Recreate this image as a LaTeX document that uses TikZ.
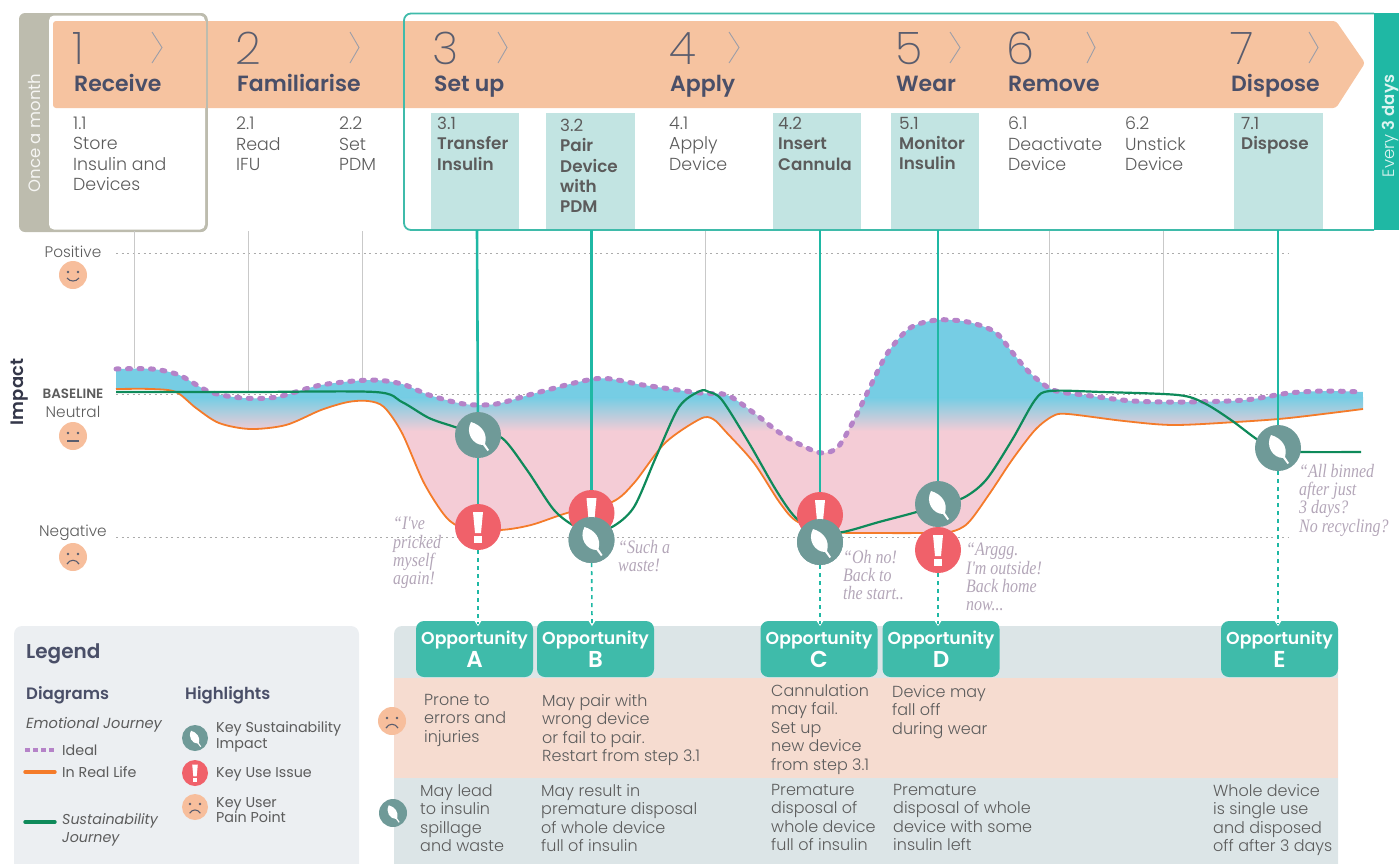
\documentclass[tikz,border=0pt]{standalone}
\usepackage{fontspec}
\setmainfont{Poppins}
\newfontfamily\plight{Poppins Light}
\newfontfamily\pxlight{Poppins ExtraLight}
\newfontfamily\psemi{Poppins SemiBold}
\newfontfamily\phand[FakeStretch=0.84]{Liberation Serif}
\definecolor{grpanel}{HTML}{BDBCAE}
\definecolor{arrowc}{HTML}{F6C3A0}
\definecolor{teal1}{HTML}{1FB8A4}
\definecolor{tealbox}{HTML}{C2E4E2}
\definecolor{opp}{HTML}{3FBBAA}
\definecolor{titlec}{HTML}{4A4F68}
\definecolor{bodyc}{HTML}{5C5C5C}
\definecolor{numc}{HTML}{5A5D6E}
\definecolor{leafc}{HTML}{6F9A98}
\definecolor{redc}{HTML}{F0616A}
\definecolor{facec}{HTML}{F7BE9C}
\definecolor{ideal}{HTML}{B583C8}
\definecolor{orange1}{HTML}{F47B2A}
\definecolor{green1}{HTML}{0E8A5A}
\definecolor{blue1}{HTML}{76CDE4}
\definecolor{pink1}{HTML}{F4CCD6}
\definecolor{bandg}{HTML}{DCE5E7}
\definecolor{bandp}{HTML}{F6DCD0}
\definecolor{legendc}{HTML}{ECEFF2}
\definecolor{handc}{HTML}{B3A6B8}
\definecolor{gridc}{HTML}{C9C9C9}
\pgfdeclarelayer{top}
\pgfsetlayers{main,top}
\tikzset{
 every node/.style={inner sep=0pt},
 num/.style={anchor=base west,text=numc,font=\pxlight\fontsize{45}{46}\selectfont},
 steptitle/.style={anchor=base west,text=titlec,font=\psemi\fontsize{22}{24}\selectfont},
 sub/.style={anchor=north west,align=left,text=bodyc,font=\plight\fontsize{17.4}{20.3}\selectfont},
 subb/.style={sub,font=\fontsize{16.8}{20.3}\selectfont},
 row/.style={anchor=north west,align=left,text=bodyc,font=\plight\fontsize{16}{18.5}\selectfont},
 hand/.style={anchor=north west,align=left,text=handc,font=\phand\itshape\fontsize{19}{18.3}\selectfont},
 axisl/.style={text=bodyc,font=\plight\fontsize{15.3}{16}\selectfont},
 leg/.style={anchor=west,align=left,text=bodyc,font=\fontsize{14.3}{15.5}\selectfont},
 legh/.style={anchor=base west,text=titlec,font=\psemi\fontsize{16.5}{18}\selectfont},
 leafn/.style={circle,fill=leafc,minimum size=46pt},
 redn/.style={circle,fill=redc,minimum size=46pt},
 oppn/.style={rectangle,rounded corners=8pt,fill=opp,minimum width=117pt,minimum height=56pt,align=center,text=white,font=\psemi\fontsize{17.3}{20}\selectfont},
 facen/.style={circle,fill=facec,minimum size=#1},
 facen/.default=28pt,
 tline/.style={teal1,line width=2.6pt},
 tdash/.style={teal1,line width=1.6pt,dash pattern=on 4pt off 4pt},
 gline/.style={gridc,line width=0.8pt},
 hdot/.style={gridc!85!black,line width=1pt,dash pattern=on 2pt off 3.5pt},
 pics/leaficon/.style={code={
   \fill[white] (-7,-13) .. controls (3,-10) and (10,-2) .. (7,9) -- (11,15) -- (9.5,16) -- (5,10) .. controls (-5,10) and (-13,-2) .. (-7,-13) -- cycle;
 }},
 pics/excl/.style={code={
   \fill[white] (-5,-15) -- (5,-15) -- (3,6) -- (-3,6) -- cycle;
   \fill[white] (-4,9) rectangle (4,16);
 }},
 pics/eyes/.style={code={
   \fill[numc] (-5,-3) circle (1.4); \fill[numc] (5,-3) circle (1.4);
 }},
 pics/smileface/.style={code={
   \pic {eyes};
   \draw[numc,line width=1.1pt] (-6,3) .. controls (-3,7) and (3,7) .. (6,3);
 }},
 pics/neutralface/.style={code={
   \pic {eyes};
   \draw[numc,line width=1.1pt] (-6,5) -- (6,5);
 }},
 pics/sadface/.style={code={
   \pic {eyes};
   \draw[numc,line width=1.1pt] (-6,7) .. controls (-3,2) and (3,2) .. (6,7);
 }},
}
\def\idealpts{(116,369) (152,369) (179,375) (210,392) (243,398) (277,397) (321,385) (371,380) (402,384) (429,395) (464,404) (496,404) (536,393) (598,378.5) (643,385) (700,393) (727,395) (754,413) (780,433) (807,448) (823,453) (838,447) (854,420) (870,387) (887.5,353) (910,328) (937,320) (968,322) (995,332) (1012,352) (1030,373) (1053,390) (1084,395) (1133,401) (1187,402) (1245,400) (1289,393) (1325,391) (1363,392)}
\def\orangepts{(116,389) (152,389) (176,392) (196,408) (219,423) (250,429) (286,425) (321,410) (348,402) (368,401) (384,407) (402,433) (424,483) (446,517) (464,528) (500,530) (531,525) (567,513) (612,502) (634,483) (665,443) (700,419) (713,419) (727,433) (754,463) (780,503) (798,522) (834,532) (879,533) (923,533) (950,532) (968,523) (990,493) (1012,460) (1035,430) (1053,416) (1068,414) (1124,421) (1173,425) (1236,422) (1289,418) (1363,409)}
\def\greenpts{(116,392) (250,392) (375,392) (402,402) (429,418) (455,427) (478,435) (502,438) (527,470) (554,510) (576,527) (591,531) (612,527) (634,507) (656,457) (679,407) (700,391) (709,392) (722,400) (749,443) (776,490) (796,518) (820,532) (843,532) (879,522) (916.5,512) (938,504) (963,498) (986,480) (1012,440) (1035,400) (1050,391) (1102,392) (1178,395) (1204,403) (1231,420) (1258,440) (1278,450) (1303,452) (1361,452)}
\begin{document}
\begin{tikzpicture}[x=1pt,y=-1pt]
\useasboundingbox (0,0) rectangle (1399,863);
% header panels
\fill[grpanel,rounded corners=6pt] (19,13) rectangle (207,232);
\fill[white,rounded corners=5pt] (49,15.5) rectangle (205,229.5);
\fill[teal1] (1374,13) rectangle (1399,230);
% teal step boxes
\foreach \a/\b in {431/519,546/635,773/861,891/979,1234/1323}
  \fill[tealbox] (\a,113) rectangle (\b,230);
% arrow band
\fill[arrowc,rounded corners=3pt] (53,21) -- (1336,21) -- (1365,63) -- (1336,108) -- (53,108) -- cycle;
\draw[grpanel,line width=1.6pt,rounded corners=6pt] (49,14) -| (207,231) -- (49,231);
\draw[opp,line width=1.8pt,rounded corners=7pt] (1374,13.5) -- (404,13.5) -- (404,230) -- (1374,230);
% chevrons
\foreach \a/\b in {152/162,350/359,498/507,729/739,950/960,1087/1095,1309/1318}
  \draw[numc!60,line width=0.9pt] (\a,32) -- (\b,47.5) -- (\a,63);
% numbers and titles
\node[num] (n1) at (72,64) {1};
\node[num] (n2) at (235,64) {2};
\node[num] (n3) at (432,64) {3};
\node[num] (n4) at (669,64) {4};
\node[num] (n5) at (895,64) {5};
\node[num] (n6) at (1006,64) {6};
\node[num] (n7) at (1230,64) {7};
\node[steptitle] (t1) at (74,91) {Receive};
\node[steptitle] (t2) at (237,91) {Familiarise};
\node[steptitle] (t3) at (434,91) {Set up};
\node[steptitle] (t4) at (670,91) {Apply};
\node[steptitle] (t5) at (896,91) {Wear};
\node[steptitle] (t6) at (1008,91) {Remove};
\node[steptitle] (t7) at (1231,91) {Dispose};
% substeps
\node[sub] (s11) at (73,117) {1.1\\Store\\Insulin and\\Devices};
\node[sub] (s21) at (236,117) {2.1\\Read\\IFU};
\node[sub] (s22) at (339,117) {2.2\\Set\\PDM};
\node[subb] (s31) at (437,117) {3.1\\{\psemi Transfer}\\{\psemi Insulin}};
\node[subb] (s32) at (560,119) {3.2\\{\psemi Pair}\\{\psemi Device}\\{\psemi with}\\{\psemi PDM}};
\node[sub] (s41) at (669,117) {4.1\\Apply\\Device};
\node[subb] (s42) at (778,117) {4.2\\{\psemi Insert}\\{\psemi Cannula}};
\node[subb] (s51) at (899,117) {5.1\\{\psemi Monitor}\\{\psemi Insulin}};
\node[sub] (s61) at (1008,117) {6.1\\Deactivate\\Device};
\node[sub] (s62) at (1125,117) {6.2\\Unstick\\Device};
\node[subb] (s71) at (1241,117) {7.1\\{\psemi Dispose}};
\node[rotate=90,text=white!85!grpanel,font=\fontsize{16.5}{17}\selectfont] (om) at (34,133) {Once a month};
\node[rotate=90,text=white!85!teal1,font=\plight\fontsize{16.5}{17}\selectfont] (ev) at (1390,126) {Every {\psemi 3 days}};
% axis lines
\draw[hdot] (116,253) -- (1289,253);
\draw[hdot] (116,394) -- (1363,394);
\draw[hdot] (116,537) -- (1289,537);
% grid ticks
\foreach \x/\y in {134/368,248/392,362/379,705/391,1049/390,1163/393}
  \draw[gline] (\x,231) -- (\x,\y);
% axis labels and faces
\node[axisl] (lp) at (73,252) {Positive};
\node[text=bodyc,font=\psemi\fontsize{13.5}{15}\selectfont] (lb) at (73,394) {BASELINE};
\node[axisl] (ln) at (73,412) {Neutral};
\node[axisl] (lg) at (73,533) {Negative};
\node[rotate=90,text=titlec!70!black,font=\psemi\fontsize{18}{20}\selectfont] (imp) at (20,392) {Impact};
\node[facen] (fp) at (73,275) {}; \pic at (fp) {smileface};
\node[facen] (fn) at (73,436) {}; \pic at (fn) {neutralface};
\node[facen] (fs) at (73,557) {}; \pic at (fs) {sadface};
% filled emotional gap
\begin{scope}
  \clip plot[smooth] coordinates {\idealpts} -- (1363,700) -- (116,700) -- cycle;
  \clip plot[smooth] coordinates {\orangepts} -- (1363,200) -- (116,200) -- cycle;
  \fill[blue1] (116,300) rectangle (1363,398);
  \shade[top color=blue1,bottom color=pink1] (116,397.5) rectangle (1363,431);
  \fill[pink1] (116,430.5) rectangle (1363,560);
\end{scope}
% curves
\draw[orange1,line width=1.8pt] plot[smooth] coordinates {\orangepts};
\draw[ideal,line width=5pt,line cap=round,dash pattern=on 3pt off 8.5pt] plot[smooth] coordinates {\idealpts};
\draw[green1,line width=2.2pt] plot[smooth] coordinates {\greenpts};
% markers, above the connectors
\begin{pgfonlayer}{top}
\node[leafn] (la) at (478,435) {};
\node[redn] (ra) at (478,527) {};
\node[redn] (rb) at (591.5,513) {};
\node[leafn] (lb2) at (591.5,540) {};
\node[redn] (rc) at (820,515) {};
\node[leafn] (lc) at (820,542) {};
\node[redn] (rd) at (938,550) {};
\node[leafn] (ld) at (938,504) {};
\node[leafn] (le) at (1278,448) {};
\pic at (la) {leaficon}; \pic at (ld) {leaficon}; \pic at (le) {leaficon};
\pic at (ra) {excl}; \pic at (rd) {excl};
\pic at (rb) {excl};
\pic at (rc) {excl};
\fill[leafc] (lb2) circle (23); \pic at (lb2) {leaficon};
\fill[leafc] (lc) circle (23); \pic at (lc) {leaficon};
\end{pgfonlayer}
% frame anchors
\coordinate (fa) at (477,230);
\coordinate (fb) at (591.5,230);
\coordinate (fc) at (820,230);
\coordinate (fd) at (938,230);
\coordinate (fe) at (1278,230);
\coordinate (ta) at (478,624);
\coordinate (tb) at (592,624);
\coordinate (tc) at (820,624);
\coordinate (td) at (938,624);
\coordinate (te) at (1278,624);
\draw[tline] (fa) -- (la);
\draw[tline] (la) -- (ra);
\draw[tline] (fb) -- (rb);
\draw[tline] (fc) -- (rc);
\draw[tline] (fd) -- (ld);
\draw[tline] (fe) -- (le);
% quotes
\node[hand] (q1) at (393,517) {“I've\\pricked\\myself\\again!};
\node[hand] (q2) at (618,540) {“Such a\\waste!};
\node[hand] (q3) at (843,550) {“Oh no!\\Back to\\the start..};
\node[hand] (q4) at (966,543) {“Arggg.\\I'm outside!\\Back home\\now...};
\node[hand] (q5) at (1299,464) {“All binned\\after just\\3 days?\\No recycling?};
% legend
\fill[legendc,rounded corners=8pt] (14,626) -- (359,626) -- (359,885) -- (14,885) -- cycle;
\node[anchor=base west,text=titlec,font=\psemi\fontsize{20}{22}\selectfont] (lgt) at (26,658) {Legend};
\node[legh] (ld1) at (26,699) {Diagrams};
\node[legh] (lh1) at (185,699) {Highlights};
\node[leg,font=\itshape\fontsize{14.6}{15}\selectfont] (lej) at (26,725) {Emotional Journey};
\coordinate (i1) at (25,750); \coordinate (i2) at (55,750);
\draw[ideal,line width=3.6pt,dash pattern=on 5pt off 3pt] (i1) -- (i2);
\node[leg] (li) at (62,750) {Ideal};
\coordinate (o1) at (25,772); \coordinate (o2) at (55,772);
\draw[orange1,line width=3.4pt,line cap=round] (o1) -- (o2);
\node[leg] (lo) at (62,772) {In Real Life};
\coordinate (g1) at (25,822); \coordinate (g2) at (55,822);
\draw[green1,line width=3.4pt,line cap=round] (g1) -- (g2);
\node[leg,font=\itshape\fontsize{14.3}{18}\selectfont] (lg2) at (62,830) {Sustainability\\Journey};
\node[circle,fill=leafc,minimum size=26pt] (hl) at (195,738) {}; \pic[scale=0.56] at (hl) {leaficon};
\node[circle,fill=redc,minimum size=26pt] (hr) at (195,773) {}; \pic[scale=0.56] at (hr) {excl};
\node[facen=26pt] (hf) at (195,807) {}; \pic[scale=0.9] at (hf) {sadface};
\node[leg] (hl1) at (216,737) {Key Sustainability\\Impact};
\node[leg] (hl2) at (216,774) {Key Use Issue};
\node[leg] (hl3) at (216,810) {Key User\\Pain Point};
% opportunity table
\fill[bandg,rounded corners=8pt] (394,626) -- (1338,626) -- (1338,885) -- (394,885) -- cycle;
\fill[bandp] (394,678) rectangle (1338,778);
\node[oppn] (oa) at (474.5,649) {Opportunity\\[1pt]{\fontsize{23}{23}\selectfont A}};
\node[oppn] (ob) at (595.5,649) {Opportunity\\[1pt]{\fontsize{23}{23}\selectfont B}};
\node[oppn] (oc) at (819,649) {Opportunity\\[1pt]{\fontsize{23}{23}\selectfont C}};
\node[oppn] (od) at (941,649) {Opportunity\\[1pt]{\fontsize{23}{23}\selectfont D}};
\node[oppn] (oe) at (1279.5,649) {Opportunity\\[1pt]{\fontsize{23}{23}\selectfont E}};
\foreach \p in {ta,tb,tc,td,te}
  \fill[white] (\p) ++(-4,-4) -- ++(8,0) -- ++(-4,6) -- cycle;
\draw[tdash] (ra) -- (ta);
\draw[tdash] (lb2) -- (tb);
\draw[tdash] (lc) -- (tc);
\draw[tdash] (rd) -- (td);
\draw[tdash] (le) -- (te);
\node[facen] (pf) at (392,721) {}; \pic at (pf) {sadface};
\node[circle,fill=leafc,minimum size=28pt] (pl) at (393,813) {}; \pic[scale=0.6] at (pl) {leaficon};
\node[row] (pa) at (424,694) {Prone to\\errors and\\injuries};
\node[row] (pb) at (542,694) {May pair with\\wrong device\\or fail to pair.\\Restart from step 3.1};
\node[row] (pc) at (771,684) {Cannulation\\may fail.\\Set up\\new device\\from step 3.1};
\node[row] (pd) at (892,685) {Device may\\fall off\\during wear};
\node[row] (ga) at (420,784) {May lead\\to insulin\\spillage\\and waste};
\node[row] (gb) at (541,784) {May result in\\premature disposal\\of whole device\\full of insulin};
\node[row] (gc) at (771,784) {Premature\\disposal of\\whole device\\full of insulin};
\node[row] (gd) at (893,784) {Premature\\disposal of whole\\device with some\\insulin left};
\node[row] (ge) at (1213,784) {Whole device\\is single use\\and disposed\\off after 3 days};
\end{tikzpicture}
\end{document}
